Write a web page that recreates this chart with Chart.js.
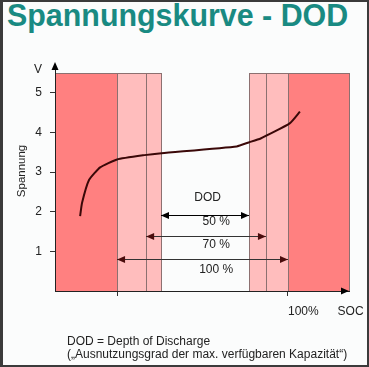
<!DOCTYPE html>
<html>
<head>
<meta charset="utf-8">
<script src="https://cdn.jsdelivr.net/npm/chart.js@4.4.1/dist/chart.umd.min.js"></script>
<style>
  html, body { margin: 0; padding: 0; }
  body { width: 369px; height: 367px; position: relative; overflow: hidden; background: #fbfcfc; font-family: "Liberation Sans", Arial, sans-serif; }
  #frame { position: absolute; left: 0; top: 0; width: 369px; height: 367px; box-sizing: border-box; border: 2px solid #3b3b3b; border-left-width: 3px; }
  #title { position: absolute; left: 7px; top: -3px; font-size: 32px; font-weight: bold; color: #198a82; white-space: nowrap; transform: scaleX(0.95); transform-origin: left top; }
  #note { position: absolute; left: 67px; top: 335px; font-size: 12px; line-height: 12.5px; color: #222; white-space: nowrap; }
  canvas { position: absolute; left: 0; top: 0; }
</style>
</head>
<body>
<div id="frame"></div>
<div id="title">Spannungskurve - DOD</div>
<canvas id="chart" width="369" height="367"></canvas>
<div id="note">DOD = Depth of Discharge<br>(„Ausnutzungsgrad der max. verfügbaren Kapazität“)</div>
<script>
// Spannungskurve: SOC in %, Spannung in V
const socPts = [-21.6, -20.5, -16.4, -9.9, 0, 16, 26, 70, 77, 84, 101, 107];
const voltPts = [1.89, 2.22, 2.80, 3.12, 3.32, 3.43, 3.48, 3.65, 3.75, 3.85, 4.23, 4.53];

const yTicks = [1, 2, 3, 4, 5];
const xTicks = [0, 100, 129];
const xTickLabels = ['', '100%', 'SOC'];

// Bereiche (SOC %)
const redZones = [[-36.3, 0], [100, 135.7]];
const pinkZones = [[0, 25.7], [77.2, 100]];
const zoneDividers = [17, 87.1];
const zoneTop = 5.5;

// DOD Pfeile
const dodSpans = [[25.7, 77.2], [17, 87.1], [0, 100]];
const dodLabels = ['50 %', '70 %', '100 %'];

// Position der Pfeile / Texte (in V)
const arrowLevels = [1.92, 1.39, 0.81];
const labelLevels = [1.74, 1.16, 0.55];
const arrowColors = ['#000', '#4a0c0c', '#4a0c0c'];

const FONT = '"Liberation Sans", Arial, sans-serif';

function head(ctx, x, y, dir, color) {
  ctx.fillStyle = color;
  ctx.beginPath();
  if (dir === 'left') { ctx.moveTo(x, y); ctx.lineTo(x + 8, y - 3.5); ctx.lineTo(x + 8, y + 3.5); }
  else if (dir === 'right') { ctx.moveTo(x, y); ctx.lineTo(x - 8, y - 3.5); ctx.lineTo(x - 8, y + 3.5); }
  else { ctx.moveTo(x, y); ctx.lineTo(x - 3.5, y + 8); ctx.lineTo(x + 3.5, y + 8); }
  ctx.closePath();
  ctx.fill();
}

const zonesPlugin = {
  id: 'zones',
  beforeDraw(chart) {
    const { ctx, scales: { x, y } } = chart;
    const yTop = Math.round(y.getPixelForValue(zoneTop));
    const yBot = Math.round(y.getPixelForValue(0));
    ctx.save();
    ctx.lineWidth = 1;
    ctx.strokeStyle = '#8c7070';
    const box = (a, b, fill) => {
      const x0 = Math.round(x.getPixelForValue(a));
      const x1 = Math.round(x.getPixelForValue(b));
      ctx.fillStyle = fill;
      ctx.fillRect(x0, yTop, x1 - x0, yBot - yTop);
      ctx.strokeRect(x0 + 0.5, yTop + 0.5, x1 - x0, yBot - yTop);
    };
    redZones.forEach(z => box(z[0], z[1], '#ff8080'));
    pinkZones.forEach(z => box(z[0], z[1], '#ffbdbd'));
    zoneDividers.forEach(v => {
      const px = Math.round(x.getPixelForValue(v)) + 0.5;
      ctx.beginPath();
      ctx.moveTo(px, yTop);
      ctx.lineTo(px, yBot);
      ctx.stroke();
    });
    ctx.restore();
  },
  afterDraw(chart) {
    const { ctx, chartArea, scales: { x, y } } = chart;
    ctx.save();
    // Achsenpfeile
    head(ctx, chartArea.left, chartArea.top - 2, 'up', '#000');
    head(ctx, chartArea.right, chartArea.bottom, 'right', '#000');

    // DOD Pfeile
    dodSpans.forEach((s, i) => {
      const x0 = x.getPixelForValue(s[0]);
      const x1 = x.getPixelForValue(s[1]);
      const py = Math.round(y.getPixelForValue(arrowLevels[i])) + 0.5;
      ctx.strokeStyle = i === 0 ? '#000' : '#333';
      ctx.lineWidth = 1;
      ctx.beginPath();
      ctx.moveTo(x0, py);
      ctx.lineTo(x1, py);
      ctx.stroke();
      head(ctx, x0, py, 'left', arrowColors[i]);
      head(ctx, x1, py, 'right', arrowColors[i]);
    });

    ctx.fillStyle = '#222';
    ctx.font = '12px ' + FONT;
    ctx.textAlign = 'center';
    ctx.textBaseline = 'middle';
    ctx.fillText('DOD', x.getPixelForValue(53), y.getPixelForValue(2.35));
    dodLabels.forEach((t, i) => {
      ctx.fillText(t, x.getPixelForValue(58), y.getPixelForValue(labelLevels[i]));
    });

    // Achsentitel
    ctx.font = '12px ' + FONT;
    ctx.fillText('V', chartArea.left - 17, y.getPixelForValue(5.58));
    ctx.font = '11.5px ' + FONT;
    ctx.translate(22, y.getPixelForValue(3.03));
    ctx.rotate(-Math.PI / 2);
    ctx.fillText('Spannung', 0, 0);
    ctx.restore();
  }
};

new Chart(document.getElementById('chart'), {
  type: 'line',
  data: {
    datasets: [{
      data: socPts.map((s, i) => ({ x: s, y: voltPts[i] })),
      borderColor: '#3a0808',
      borderWidth: 2,
      pointRadius: 0,
      tension: 0.15,
      fill: false
    }]
  },
  options: {
    responsive: false,
    animation: false,
    layout: { padding: { left: 0, top: 64, right: 20, bottom: 0 } },
    plugins: { legend: { display: false }, tooltip: { enabled: false } },
    scales: {
      x: {
        type: 'linear',
        min: -36.3,
        max: 135.7,
        afterBuildTicks: s => { s.ticks = xTicks.map(v => ({ value: v })); },
        afterFit: s => { s.height = 76; s.paddingLeft = 0; s.paddingRight = 0; },
        ticks: {
          autoSkip: false,
          align: 'start',
          padding: 8,
          color: '#222',
          font: { family: FONT, size: 12 },
          callback: (v, i) => xTickLabels[i]
        },
        grid: {
          drawOnChartArea: false,
          tickLength: 5,
          color: c => (c.index === 2 ? 'rgba(0,0,0,0)' : '#333')
        },
        border: { color: '#222', width: 1 }
      },
      y: {
        min: 0,
        max: 5.73,
        afterBuildTicks: s => { s.ticks = yTicks.map(v => ({ value: v })); },
        afterFit: s => { s.width = 55; s.paddingTop = 0; s.paddingBottom = 0; },
        ticks: {
          autoSkip: false,
          padding: 8,
          color: '#222',
          font: { family: FONT, size: 12 }
        },
        grid: { drawOnChartArea: false, tickLength: 5, color: '#333' },
        border: { color: '#222', width: 1 }
      }
    }
  },
  plugins: [zonesPlugin]
});
</script>
</body>
</html>
